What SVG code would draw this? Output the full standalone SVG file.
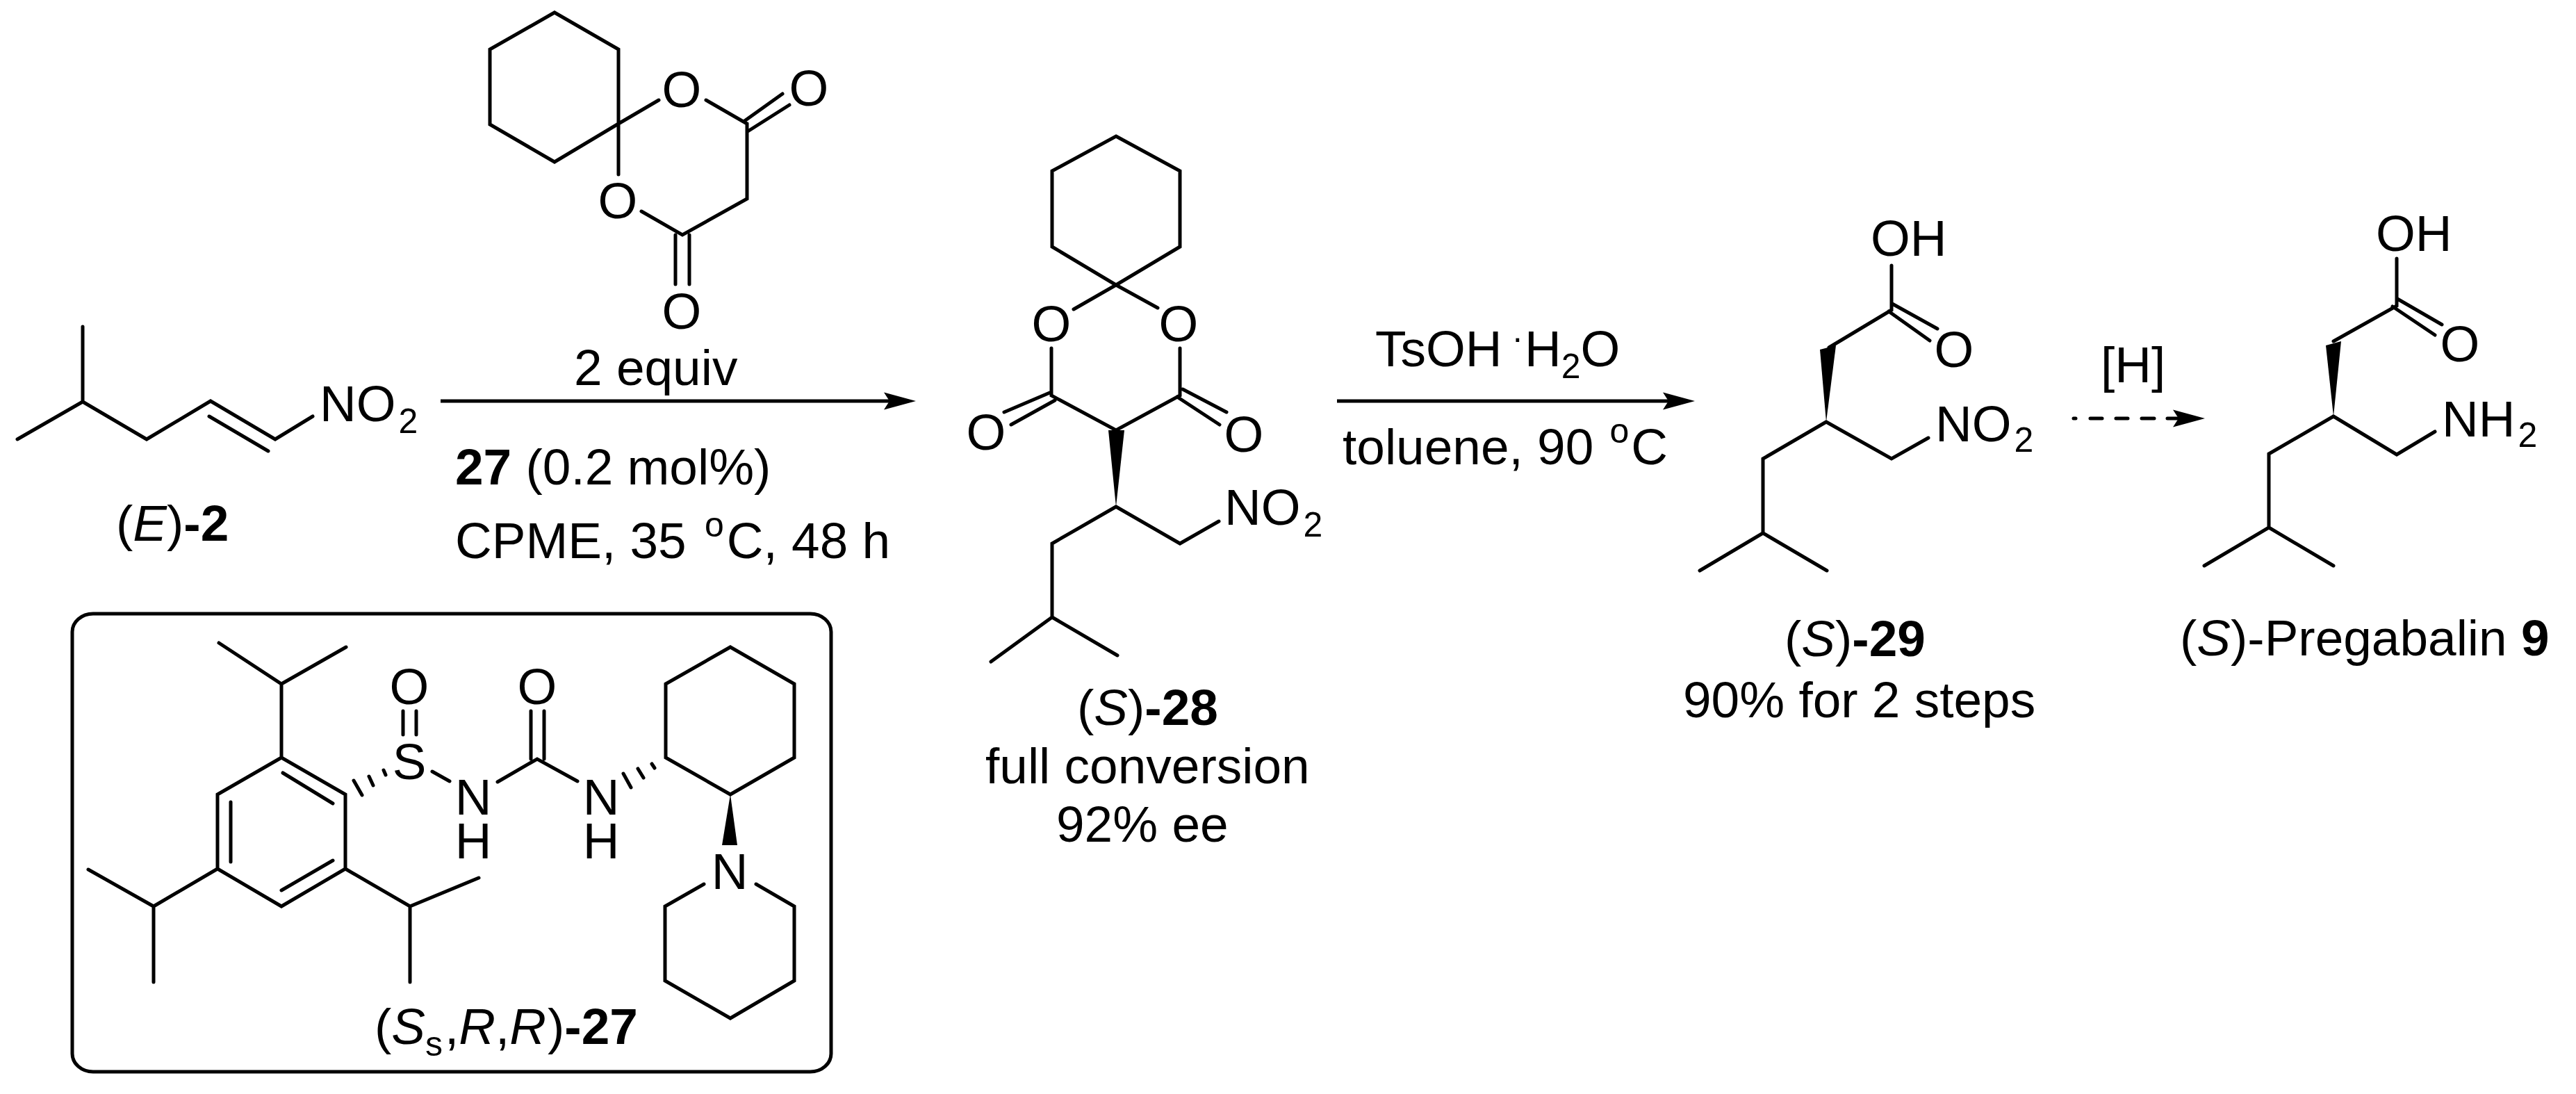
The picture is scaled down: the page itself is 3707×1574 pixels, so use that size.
<svg xmlns="http://www.w3.org/2000/svg" width="3707" height="1574" viewBox="0 0 3707 1574">
<style>
text{font-family:"Liberation Sans",Arial,sans-serif;font-size:73px;fill:#000}
.c{text-anchor:middle}
.b{font-weight:bold}
.i{font-style:italic}
.s{font-size:50px}
.bond{fill:none;stroke:#000;stroke-width:5;stroke-linejoin:miter;stroke-linecap:round}
.arr{fill:none;stroke:#000;stroke-width:5}
.wedge{fill:#000;stroke:none}
</style>
<defs>
<marker id="head" markerUnits="userSpaceOnUse" markerWidth="48" markerHeight="28" refX="8" refY="14" orient="auto"><path d="M46 14L0 1.5L8 14L0 26.5Z" fill="#000"/></marker>
</defs>
<rect width="3707" height="1574" fill="#fff"/>
<g id="connectors">
<path class="arr" d="M634 577H1280" marker-end="url(#head)"/>
<path class="arr" d="M1924 577H2401" marker-end="url(#head)"/>
<path class="arr" stroke-linecap="round" d="M2984 602H2987M3008 602H3025M3045 602H3062M3082 602H3100M3119 602H3135" marker-end="url(#head)"/>
</g>
<g id="node-E-2">
<path class="bond" d="M25 632L119 578L211 632L303 577L396 632L450 599M119 578V470M301 599L386 649"/>
<text x="460" y="606">NO<tspan class="s" dx="4" dy="17">2</tspan></text>
<text x="167" y="778">(<tspan class="i">E</tspan>)<tspan class="b">-2</tspan></text>
</g>
<g id="node-meldrum">
<path class="bond" d="M798 18L890 71V178L798 233L705 179V71ZM890 178L948 144M890 178V251M1016 144L1075 178V286L982 338L923 304M972 338V409M992 338V409M1070 175L1126 135M1076 189L1136 151"/>
<text class="c" x="981" y="154">O</text>
<text class="c" x="889" y="314">O</text>
<text class="c" x="981" y="473">O</text>
<text class="c" x="1164" y="152">O</text>
</g>
<g id="reagents-1">
<text x="826" y="554">2 equiv</text>
<text x="655" y="697"><tspan class="b">27</tspan> (0.2 mol%)</text>
<text x="655" y="803">CPME, 35 <tspan class="s" dx="6" dy="-31">o</tspan><tspan dx="4" dy="31">C, 48 h</tspan></text>
</g>
<g id="node-catalyst-27">
<rect x="104" y="883" width="1092" height="659" rx="30" ry="26" fill="none" stroke="#000" stroke-width="5"/>
<path class="bond" d="M315 925L405 984L498 931M405 984V1090L497 1143V1250L405 1304L313 1250V1143L405 1090M407 1112L479 1156M332 1154V1240M405 1281L479 1238M313 1250L221 1304L127 1251M221 1304V1413M497 1250L590 1304L689 1263M590 1304V1413"/>
<path class="bond" d="M509 1123L521 1144M531 1117L537 1130M552 1108L555 1115"/>
<path class="bond" d="M580 1023V1057M599 1023V1057M622 1110L647 1124M716 1125L773 1092L831 1124M764 1023V1092M783 1023V1092"/>
<path class="bond" d="M938 1099L942 1105M918 1106L926 1119M897 1113L908 1133"/>
<path class="bond" d="M1051 931L1143 984V1090L1051 1143L958 1090V984ZM1013 1272L957 1304V1411L1051 1465L1143 1411V1304L1088 1272"/>
<path class="wedge" d="M1051 1143L1039 1216H1061Z"/>
<text class="c" x="589" y="1013">O</text>
<text class="c" x="773" y="1013">O</text>
<text class="c" x="589" y="1121">S</text>
<text class="c" x="681" y="1172">N<tspan x="681" dy="63">H</tspan></text>
<text class="c" x="865" y="1172">N<tspan x="865" dy="63">H</tspan></text>
<text class="c" x="1050" y="1279">N</text>
<text x="539" y="1502">(<tspan class="i">S</tspan><tspan class="s" dy="17">s</tspan><tspan dx="3" dy="-17">,</tspan><tspan class="i">R</tspan>,<tspan class="i">R</tspan><tspan dx="2">)</tspan><tspan class="b">-27</tspan></text>
</g>
<g id="node-S-28">
<path class="bond" d="M1606 196L1698 246V355L1606 410L1514 355V246ZM1606 410L1545 445M1606 410L1666 443M1513 501V569L1606 619L1698 569V501M1513 564L1445 593M1518 576L1455 611M1702 560L1765 593M1694 571L1755 611M1606 729L1514 782V888L1426 952M1514 888L1608 943M1606 729L1698 782L1754 750"/>
<path class="wedge" d="M1606 729L1595 619H1618Z"/>
<text class="c" x="1513" y="491">O</text>
<text class="c" x="1696" y="491">O</text>
<text class="c" x="1419" y="647">O</text>
<text class="c" x="1790" y="650">O</text>
<text x="1762" y="755">NO<tspan class="s" dx="4" dy="17">2</tspan></text>
<text x="1550" y="1043">(<tspan class="i">S</tspan>)<tspan class="b">-28</tspan></text>
<text x="1418" y="1127">full conversion</text>
<text x="1520" y="1211">92% ee</text>
</g>
<g id="reagents-2">
<text x="1979" y="527">TsOH<tspan dy="-24" class="s"> ·</tspan><tspan dx="2" dy="24">H</tspan><tspan class="s" dy="17">2</tspan><tspan dy="-17">O</tspan></text>
<text x="1932" y="668">toluene, 90 <tspan class="s" dx="3" dy="-31">o</tspan><tspan dx="3" dy="31">C</tspan></text>
</g>
<g id="node-S-29">
<path class="bond" d="M2722 382V446L2632 500M2723 437L2788 473M2718 448L2777 490M2628 607L2537 660V767L2446 821M2537 767L2629 821M2628 607L2722 660L2775 630"/>
<path class="wedge" d="M2628 607L2619 503L2642 497Z"/>
<text x="2692" y="368">OH</text>
<text class="c" x="2812" y="528">O</text>
<text x="2785" y="635">NO<tspan class="s" dx="4" dy="15">2</tspan></text>
<text x="2568" y="944">(<tspan class="i">S</tspan>)<tspan class="b">-29</tspan></text>
<text x="2422" y="1032">90% for 2 steps</text>
</g>
<g id="reagent-3">
<text x="3023" y="550">[H]</text>
</g>
<g id="node-pregabalin-9">
<path class="bond" d="M3449 372V440L3358 491M3450 430L3514 467M3443 441L3504 482M3358 599L3265 653V759L3172 814M3265 759L3358 814M3358 599L3449 654L3504 621"/>
<path class="wedge" d="M3358 599L3347 497L3369 491Z"/>
<text x="3419" y="361">OH</text>
<text class="c" x="3540" y="520">O</text>
<text x="3514" y="628">NH<tspan class="s" dx="4" dy="15">2</tspan></text>
<text x="3137" y="943">(<tspan class="i">S</tspan>)-Pregabalin <tspan class="b">9</tspan></text>
</g>
</svg>
